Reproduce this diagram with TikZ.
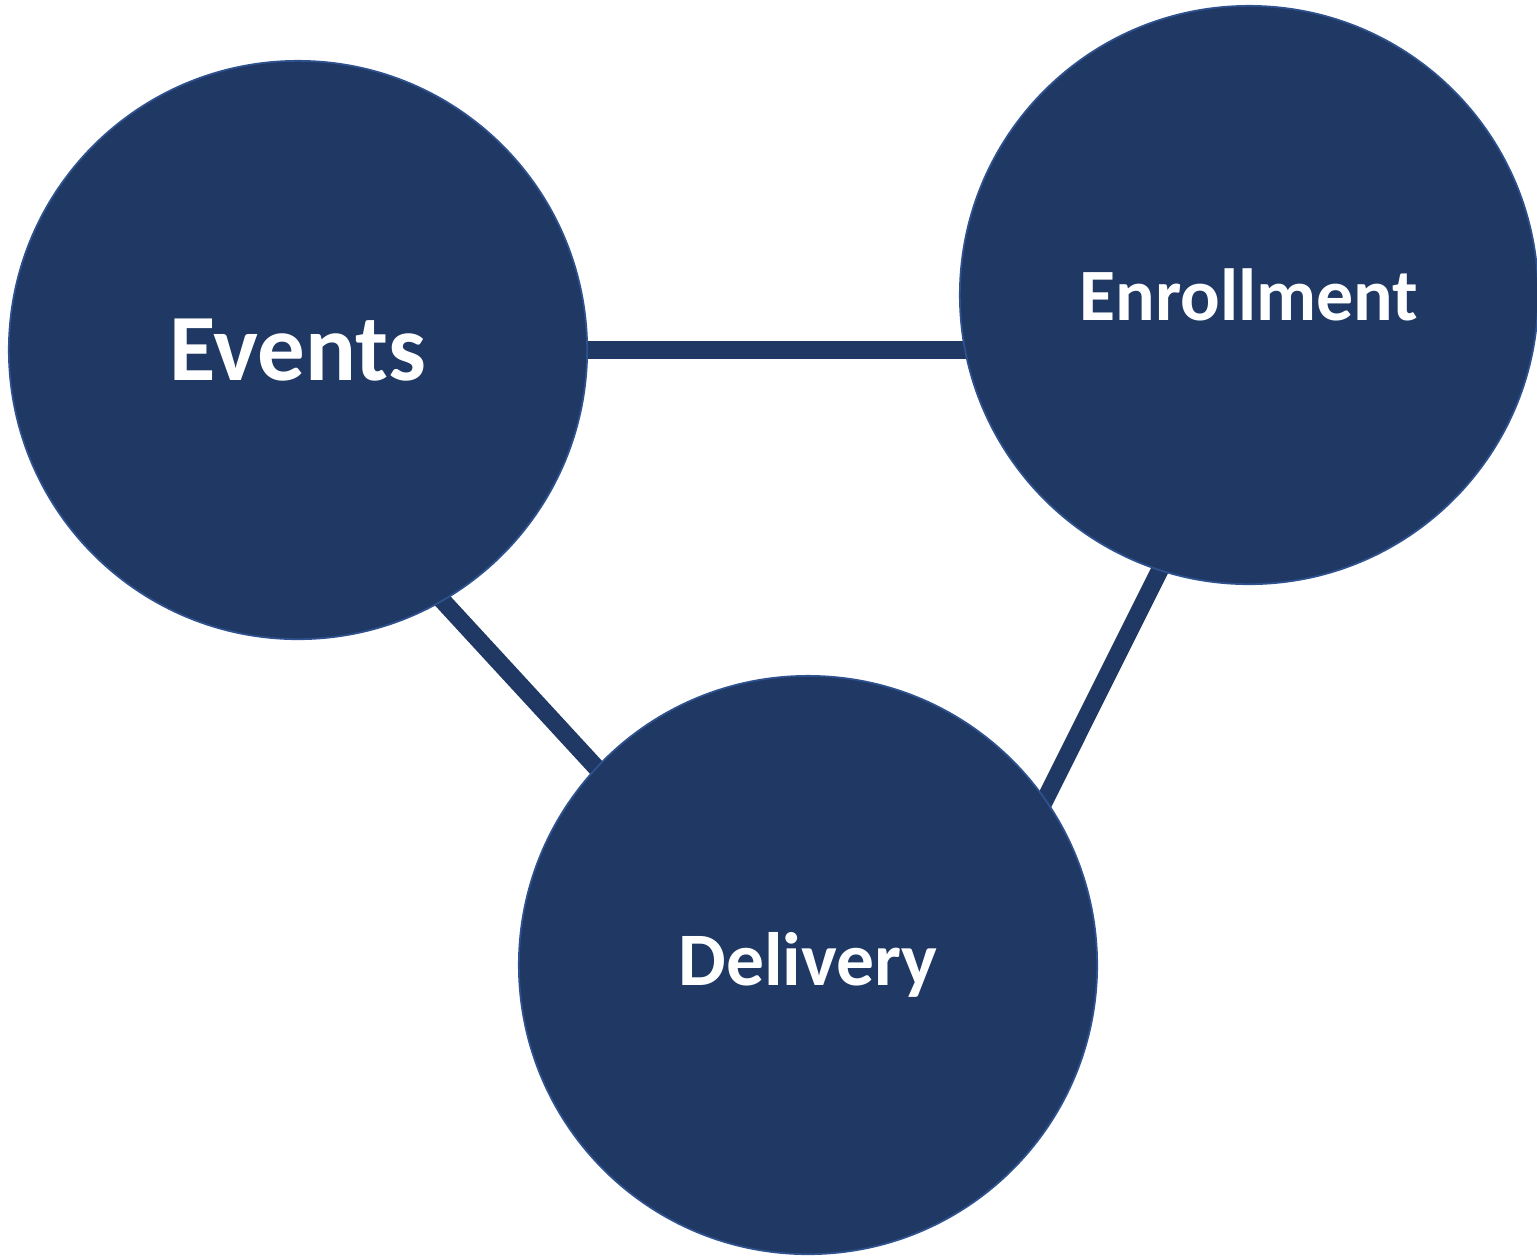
\documentclass[tikz,border=0pt]{standalone}
\usepackage{fontspec}
\setmainfont{Carlito}
\usetikzlibrary{backgrounds}
\definecolor{hubblue}{RGB}{32,56,100}
\definecolor{hubedge}{RGB}{47,82,143}
\begin{document}
\begin{tikzpicture}[x=0.01cm,y=-0.01cm,
	hub/.style={circle,fill=hubblue,draw=hubedge,line width=0.5pt,minimum size=5.78cm,inner sep=0pt,text=white,font=\bfseries},
	link/.style={hubblue,line width=5pt,shorten <=-4pt,shorten >=-4pt}]
		\useasboundingbox (0,0) rectangle (1537,1256);

		% circles
		\node[hub,font=\bfseries\fontsize{27}{32}\selectfont] (events) at (298,350) {Events};
		\node[hub,font=\bfseries\fontsize{21}{25}\selectfont] (enroll) at (1249,295) {Enrollment};
		\node[hub,font=\bfseries\fontsize{21.5}{26}\selectfont] (deliv) at (808,965) {Delivery};

		% links
		\begin{pgfonlayer}{background}
		\draw[link] (events.east) -- (events.east -| enroll.west);
		\draw[link] (events.-60) -- (deliv.137);
		\draw[link] (enroll.-108) -- (deliv.35);
		\end{pgfonlayer}
	\end{tikzpicture}
\end{document}
